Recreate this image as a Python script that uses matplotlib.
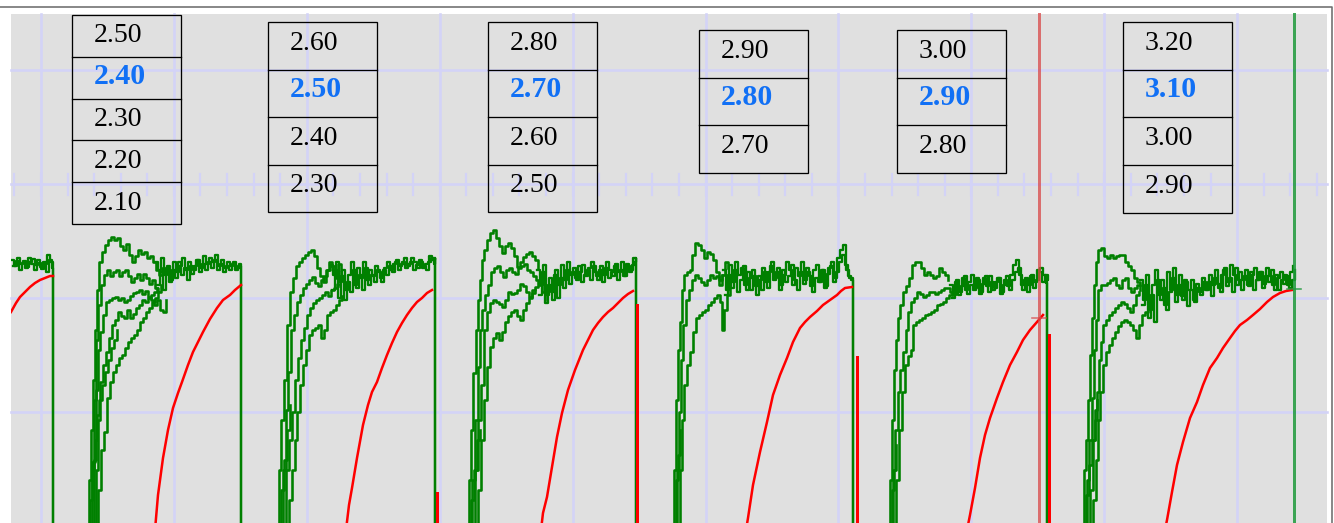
import numpy as np
import matplotlib.pyplot as plt
from matplotlib.patches import Rectangle

# scope raster: columns 0..1334, rows 0..523 (rows grow downward)
W, H = 1334, 523
STEP = 3  # green channel sample spacing in raster columns

# ---- readout tables (one per sweep), middle-highlighted value in blue ----
table_vals = [
    [2.50, 2.40, 2.30, 2.20, 2.10],
    [2.60, 2.50, 2.40, 2.30],
    [2.80, 2.70, 2.60, 2.50],
    [2.90, 2.80, 2.70],
    [3.00, 2.90, 2.80],
    [3.20, 3.10, 3.00, 2.90],
]
highlight_row = [1, 1, 1, 1, 1, 1]

# ---- green channel: settled (noisy) part of every sweep, two overlaid passes ----
settle_start = [11, 155, 330, 537, 723, 950, 1140]
settle_0 = [260, 266, 258, 264, 261, 267, 262, 259, 265, 263, 269, 264, 255, 262]
settle_1 = [262, 270, 258, 275, 266, 280, 262, 272, 266, 258, 270, 262, 274, 266, 260,
            268, 256, 264, 258, 262, 255, 266, 260, 268, 262, 266, 262, 268, 264]
settle_2 = [265, 275, 262, 282, 270, 290, 275, 262, 285, 268, 278, 262, 280, 270, 276,
            266, 272, 282, 268, 262, 270, 264, 260, 266, 262, 268, 264, 258, 262, 268,
            262, 266, 270, 256, 260]
settle_3 = [270, 285, 265, 295, 278, 300, 270, 285, 265, 280, 262, 275, 268, 280, 272,
            265, 276, 268, 262, 272, 280, 266, 275, 262, 270, 276, 264, 272, 262, 276,
            266, 270, 258]
settle_4 = [270, 290, 265, 282, 262, 275, 268, 285, 272, 290, 276, 295, 280, 268, 282,
            272, 262, 278, 268, 285, 275, 262, 270, 285, 268, 276, 262, 280, 272, 286,
            270, 265, 282, 270, 286, 268, 262, 278, 258, 250, 245, 270, 278]
settle_5 = [285, 295, 280, 292, 278, 290, 282, 275, 288, 280, 292, 278, 286, 276, 290,
            282, 278, 292, 280, 286, 275, 265, 260, 275, 290, 278, 285, 275, 282, 270,
            268, 275, 283]
settle_6 = [280, 300, 275, 310, 285, 270, 295, 280, 305, 272, 290, 268, 295, 275, 300,
            282, 290, 280, 302, 288, 295, 282, 290, 275, 285, 270, 288, 275, 268, 282,
            265, 275, 285, 272, 280, 270, 286, 275, 268, 280, 272, 284, 268, 276, 285,
            275, 290, 280, 275, 285, 272, 266]
settle_0b = [266, 261, 270, 263, 268, 258, 264, 270, 260, 267, 262, 272, 260, 268]
settle_1b = [285, 272, 290, 268, 282, 270, 278, 262, 275, 268, 280, 266, 270, 260, 272,
             264, 270, 262, 268, 260, 270, 264, 272, 266, 270, 264, 270, 266, 272]
settle_2b = [290, 270, 298, 276, 300, 282, 292, 270, 288, 275, 290, 268, 285, 275, 282,
             270, 278, 270, 275, 266, 272, 262, 270, 264, 258, 266, 262, 270, 265, 260,
             268, 264, 262, 258, 264]
settle_3b = [295, 272, 303, 285, 292, 275, 298, 278, 288, 270, 284, 272, 278, 266, 282,
             275, 270, 280, 266, 276, 270, 282, 268, 278, 272, 266, 280, 270, 276, 264,
             272, 265, 262]
settle_4b = [295, 275, 288, 270, 292, 280, 266, 290, 278, 270, 286, 276, 290, 272, 288,
             266, 280, 272, 290, 270, 282, 276, 265, 280, 290, 272, 284, 268, 276, 292,
             278, 282, 270, 288, 274, 266, 282, 272, 262, 255, 265, 276, 280]
settle_5b = [298, 282, 295, 286, 276, 294, 285, 290, 278, 294, 284, 276, 292, 282, 288,
             278, 294, 285, 276, 290, 280, 272, 268, 285, 280, 292, 276, 288, 280, 272,
             282, 275, 280]
settle_6b = [305, 285, 318, 295, 322, 280, 300, 288, 310, 292, 278, 302, 285, 296, 280,
             306, 290, 300, 284, 292, 278, 290, 282, 296, 278, 284, 292, 270, 286, 278,
             292, 268, 280, 290, 276, 285, 272, 290, 280, 272, 288, 276, 282, 270, 290,
             278, 272, 284, 276, 288, 280, 270]
settles = [settle_0, settle_1, settle_2, settle_3, settle_4, settle_5, settle_6]
settles_b = [settle_0b, settle_1b, settle_2b, settle_3b, settle_4b, settle_5b, settle_6b]
# end of sweep: trace falls to the bottom from this row
drop_x = [53, 241, 435, 636, 853, 1047]
drop_top = [272, 272, 258, 258, 280, 283]

# ---- green channel: persistence of the leading edges (x, y) ----
rise_1 = [
    [(87, 530), (89, 480), (91, 430), (93, 380), (95, 330), (97, 290), (99, 262), (102, 252),
     (105, 245), (108, 240), (111, 237), (114, 240), (117, 238), (120, 246), (123, 250),
     (126, 244), (129, 255), (132, 262), (135, 256), (138, 250), (141, 254), (144, 252),
     (147, 258), (150, 256), (153, 262), (156, 270), (159, 275), (162, 268)],
    [(89, 530), (92, 470), (94, 400), (96, 340), (98, 305), (101, 285), (104, 275), (107, 270),
     (110, 276), (113, 272), (116, 270), (119, 276), (122, 272), (125, 270), (128, 276),
     (131, 282), (134, 278), (137, 274), (140, 280), (143, 274), (146, 278), (149, 284),
     (152, 280), (155, 288), (158, 292), (161, 285)],
    [(91, 530), (94, 460), (96, 390), (98, 350), (100, 332), (103, 315), (106, 302), (109, 300),
     (112, 298), (115, 297), (118, 300), (121, 298), (124, 302), (127, 300), (130, 296),
     (133, 293), (136, 292), (139, 290), (142, 294), (145, 291), (148, 297), (151, 300),
     (154, 305), (157, 300), (160, 310), (163, 312), (166, 300)],
    [(93, 530), (96, 470), (98, 420), (100, 382), (103, 365), (106, 352), (109, 338), (112, 325),
     (115, 320), (118, 312), (121, 316), (124, 318), (127, 310), (130, 318), (133, 314),
     (136, 308), (139, 305), (142, 300), (145, 302), (148, 298), (151, 295), (154, 292),
     (157, 288)],
    [(95, 530), (98, 490), (101, 450), (104, 432), (107, 398), (110, 382), (113, 372), (116, 365),
     (119, 358), (122, 355), (125, 348), (128, 342), (131, 338), (134, 335), (137, 330),
     (140, 322), (143, 318), (146, 312), (149, 308), (152, 302), (155, 298), (158, 292)],
    [(88, 530), (90, 500), (92, 462), (95, 440), (97, 415), (99, 400), (102, 385), (105, 372),
     (108, 360), (111, 348), (114, 340), (117, 330)],
]
rise_2 = [
    [(277, 530), (279, 470), (281, 420), (284, 380), (287, 325), (290, 292), (293, 278), (296, 266),
     (299, 262), (302, 258), (305, 255), (308, 252), (311, 250), (314, 256), (317, 268),
     (320, 276), (323, 282), (326, 270), (329, 262), (332, 266), (335, 272), (338, 264), (341, 270)],
    [(280, 530), (283, 470), (286, 410), (288, 372), (291, 330), (294, 315), (297, 302), (300, 295),
     (303, 288), (306, 284), (309, 280), (312, 277), (315, 283), (318, 286), (321, 280),
     (324, 276), (327, 270), (330, 266), (333, 272), (336, 278), (339, 272)],
    [(283, 530), (286, 470), (289, 440), (292, 412), (295, 380), (298, 358), (301, 340), (304, 328),
     (307, 315), (310, 308), (313, 303), (316, 300), (319, 298), (322, 295), (325, 292),
     (328, 296), (331, 290), (334, 288), (337, 284), (340, 286)],
    [(286, 530), (289, 500), (292, 470), (295, 440), (297, 412), (300, 385), (303, 365), (306, 350),
     (309, 335), (312, 330), (315, 328), (318, 325), (321, 338), (324, 330), (327, 315),
     (330, 312), (333, 310), (336, 305), (339, 300), (342, 296)],
    [(278, 530), (281, 490), (284, 460), (287, 430), (290, 405)],
]
rise_3 = [
    [(467, 530), (469, 480), (471, 430), (473, 373), (476, 330), (478, 300), (480, 280), (482, 260),
     (484, 250), (487, 240), (490, 233), (493, 230), (496, 238), (499, 246), (502, 253),
     (505, 246), (508, 243), (511, 248), (514, 256), (517, 267), (520, 262), (523, 257),
     (526, 254), (529, 252), (532, 256), (535, 260), (538, 268)],
    [(470, 530), (472, 480), (475, 420), (478, 367), (480, 330), (482, 310), (485, 295), (488, 285),
     (491, 272), (494, 268), (497, 266), (500, 272), (503, 277), (506, 270), (509, 268),
     (512, 272), (515, 274), (518, 268), (521, 266), (524, 264), (527, 270), (530, 272),
     (533, 276), (536, 280), (539, 285), (542, 292), (545, 300)],
    [(473, 530), (475, 470), (478, 420), (481, 385), (484, 330), (487, 312), (490, 303), (493, 300),
     (496, 302), (499, 304), (502, 307), (505, 300), (508, 292), (511, 294), (514, 293),
     (517, 290), (520, 284), (523, 286), (526, 292), (529, 297), (532, 290), (535, 287), (538, 282)],
    [(476, 530), (478, 490), (481, 440), (484, 400), (487, 367), (490, 347), (493, 338), (496, 333),
     (499, 340), (502, 332), (505, 322), (508, 316), (511, 312), (514, 310), (517, 316),
     (520, 320), (523, 310), (526, 303), (529, 298), (532, 293), (535, 290)],
    [(468, 530), (471, 500), (474, 470), (477, 440), (480, 430)],
]
rise_4 = [
    [(672, 530), (674, 470), (676, 400), (678, 350), (680, 322), (682, 290), (684, 275), (687, 272),
     (690, 270), (692, 255), (695, 243), (698, 245), (701, 250), (704, 258), (707, 252),
     (710, 254), (713, 260), (716, 272), (719, 285), (722, 275), (725, 262), (728, 268)],
    [(675, 530), (677, 470), (679, 412), (681, 360), (683, 325), (686, 300), (689, 290), (692, 280),
     (695, 275), (698, 278), (701, 282), (704, 285), (707, 280), (710, 275), (713, 278),
     (716, 276), (719, 280), (722, 275)],
    [(678, 530), (680, 470), (682, 420), (684, 385), (687, 365), (690, 352), (693, 332), (696, 318),
     (699, 315), (702, 312), (705, 310), (708, 305), (711, 302), (714, 298), (717, 295),
     (720, 302), (722, 330), (724, 310), (727, 295), (730, 288)],
    [(673, 530), (676, 480), (678, 455), (680, 430)],
]
rise_5 = [
    [(888, 530), (890, 480), (892, 420), (894, 370), (896, 340), (898, 318), (900, 305), (903, 292),
     (906, 286), (909, 278), (912, 265), (915, 262), (918, 262), (921, 268), (924, 275),
     (927, 272), (930, 275), (933, 278), (936, 276), (939, 268), (942, 272), (945, 275), (948, 280)],
    [(891, 530), (893, 470), (895, 430), (898, 392), (900, 370), (903, 352), (906, 330), (908, 312),
     (911, 302), (914, 298), (917, 292), (920, 294), (923, 297), (926, 295), (929, 292),
     (932, 292), (935, 294), (938, 292), (941, 290), (944, 288), (947, 288), (950, 292), (953, 295)],
    [(894, 530), (896, 480), (899, 430), (902, 392), (905, 365), (908, 356), (911, 350), (913, 325),
     (916, 322), (919, 320), (922, 318), (925, 315), (928, 314), (931, 312), (934, 310),
     (937, 305), (940, 304), (943, 302), (946, 298), (949, 295), (952, 292), (955, 290)],
    [(889, 530), (892, 490), (894, 470), (896, 445)],
]
rise_6 = [
    [(1082, 530), (1084, 470), (1086, 440), (1088, 400), (1090, 355), (1092, 318), (1094, 285),
     (1096, 262), (1098, 250), (1101, 248), (1104, 256), (1107, 258), (1110, 255), (1113, 258),
     (1116, 256), (1119, 255), (1122, 255), (1125, 262), (1128, 266), (1131, 270), (1134, 278),
     (1137, 282), (1140, 285)],
    [(1085, 530), (1087, 480), (1089, 440), (1092, 398), (1094, 350), (1096, 320), (1098, 290),
     (1101, 285), (1104, 285), (1107, 283), (1110, 280), (1113, 278), (1116, 285), (1119, 288),
     (1122, 280), (1125, 278), (1128, 288), (1131, 292), (1134, 288), (1137, 285), (1140, 290)],
    [(1088, 530), (1090, 490), (1093, 440), (1095, 410), (1097, 392), (1099, 360), (1101, 342),
     (1103, 325), (1106, 320), (1109, 315), (1112, 312), (1115, 308), (1118, 305), (1121, 302),
     (1124, 304), (1127, 308), (1130, 312), (1133, 305), (1136, 295), (1139, 292)],
    [(1091, 530), (1093, 500), (1096, 460), (1098, 420), (1100, 392), (1103, 365), (1106, 352),
     (1109, 345), (1112, 338), (1115, 332), (1118, 326), (1121, 322), (1124, 320), (1127, 322),
     (1130, 325), (1133, 330), (1136, 338), (1139, 325), (1142, 315), (1145, 312), (1148, 308),
     (1151, 305)],
    [(1083, 530), (1086, 495), (1089, 465), (1092, 440), (1095, 420), (1097, 400)],
]
rises = [rise_1, rise_2, rise_3, rise_4, rise_5, rise_6]

# ---- red channel: charging curve of each sweep (x, y) ----
red_0 = [(11, 312), (16, 303), (20, 297), (25, 292), (30, 287), (35, 283), (40, 280), (45, 278),
         (50, 276), (53, 276)]
red_1 = [(155, 530), (158, 495), (163, 458), (168, 430), (173, 408), (178, 393), (182, 382),
         (188, 365), (193, 352), (198, 342), (203, 332), (210, 319), (217, 308), (223, 300),
         (230, 295), (235, 290), (241, 285)]
red_2 = [(346, 530), (349, 505), (352, 488), (357, 458), (363, 425), (368, 405), (372, 392),
         (377, 382), (382, 368), (387, 355), (392, 343), (397, 332), (402, 323), (407, 315),
         (412, 308), (417, 302), (422, 298), (427, 293), (432, 290)]
red_3 = [(541, 530), (543, 513), (547, 497), (552, 467), (557, 437), (562, 413), (568, 390),
         (575, 370), (583, 350), (588, 340), (593, 330), (598, 323), (603, 317), (608, 312),
         (613, 308), (618, 303), (623, 298), (628, 294), (633, 291)]
red_4 = [(746, 530), (748, 518), (753, 485), (760, 452), (767, 422), (773, 395), (780, 375),
         (787, 358), (793, 342), (800, 328), (805, 322), (810, 317), (817, 311), (823, 305),
         (830, 300), (837, 295), (841, 291), (845, 288), (852, 287)]
red_5 = [(967, 530), (970, 515), (975, 488), (980, 458), (985, 435), (990, 418), (997, 398),
         (1003, 382), (1010, 365), (1017, 352), (1023, 340), (1030, 330), (1037, 322), (1043, 315)]
red_6 = [(1165, 530), (1167, 520), (1172, 492), (1177, 465), (1183, 442), (1190, 418),
         (1197, 402), (1203, 385), (1210, 368), (1217, 358), (1223, 348), (1230, 338),
         (1235, 331), (1240, 325), (1247, 320), (1253, 315), (1260, 309), (1267, 302),
         (1273, 297), (1280, 293), (1286, 291), (1292, 290)]
reds = [red_0, red_1, red_2, red_3, red_4, red_5, red_6]
# red channel falling edge after each sweep
red_drop_x = [437, 637, 857, 1049]
red_drop_top = [493, 305, 357, 335]

# cursors
cursor_red = (1039, 318)
cursor_green = (1294, 289)

# ---- layout ----
table_left = [72, 268, 488, 699, 897, 1123]
table_top = [15, 22, 22, 30, 30, 22]
table_row_h = [41.8, 47.6, 47.6, 47.7, 47.7, 47.7]
table_w = 109

plot_l, plot_r, plot_t = 11, 1327, 14
grid_x0, grid_dx = 41, 132.9
grid_y0, grid_dy = 70, 114
center_y = 184

GREEN = '#008000'
RED = '#ff0000'
GRID = '#d3d3f7'
BLUE = '#1170f5'
PX = 0.72  # points per raster pixel at 100 dpi

fig = plt.figure(figsize=(W / 100, H / 100), dpi=100)
ax = fig.add_axes([0, 0, 1, 1])
ax.set_xlim(0, W)
ax.set_ylim(H, 0)
ax.axis('off')

# frame and screen background
ax.plot([0, 1332, 1332], [7, 7, H], color='#6e6e6e', lw=1.6 * PX, zorder=1)
ax.add_patch(Rectangle((plot_l, plot_t), plot_r - plot_l, H - plot_t + 5,
                       facecolor='#e0e0e0', edgecolor='none', zorder=1))

# graticule
for k in range(10):
    x = grid_x0 + k * grid_dx
    ax.plot([x, x], [plot_t, H], color=GRID, lw=2.6 * PX, zorder=2)
for k in range(4):
    y = grid_y0 + k * grid_dy
    ax.plot([plot_l, plot_r], [y, y], color=GRID, lw=2.6 * PX, zorder=2)
tick_x = grid_x0 + grid_dx / 5 * np.arange(-1, 50)
tick_x = tick_x[(tick_x > plot_l) & (tick_x < plot_r)]
for x in tick_x:
    ax.plot([x, x], [center_y - 10.5, center_y + 10.5], color=GRID, lw=2.2 * PX, zorder=2)

# readout tables
for vals, hi, left, top, rh in zip(table_vals, highlight_row, table_left, table_top, table_row_h):
    n = len(vals)
    ax.add_patch(Rectangle((left, top), table_w, rh * n, facecolor='none',
                           edgecolor='black', lw=1.3 * PX, zorder=3))
    for r in range(1, n):
        ax.plot([left, left + table_w], [top + r * rh, top + r * rh],
                color='black', lw=1.3 * PX, zorder=3)
    for r, v in enumerate(vals):
        bold = r == hi
        ax.text(left + 22, top + r * rh + 27.5, f'{v:.2f}', family='Liberation Serif',
                fontsize=21.5 if bold else 20, fontweight='bold' if bold else 'normal',
                color=BLUE if bold else 'black', ha='left', va='baseline', zorder=4)

# green channel
clip = Rectangle((plot_l, plot_t), plot_r - plot_l, H - plot_t, transform=ax.transData)
for i in range(len(settles)):
    for vals, shift in ((settles_b[i], 1.5), (settles[i], 0.0)):
        xs = list(settle_start[i] + shift + STEP * np.arange(len(vals)))
        ys = list(vals)
        if i < len(drop_x):
            xs += [drop_x[i], drop_x[i]]
            ys += [drop_top[i], 540]
        ln, = ax.plot(xs, ys, color=GREEN, lw=2.3 * PX, drawstyle='steps-post', zorder=5)
        ln.set_clip_path(clip)
for group in rises:
    for curve in group:
        cx, cy = zip(*curve)
        ln, = ax.plot(cx, cy, color=GREEN, lw=2.6 * PX, drawstyle='steps-post', zorder=5)
        ln.set_clip_path(clip)

# red channel
for curve in reds:
    cx, cy = zip(*curve)
    ln, = ax.plot(cx, cy, color=RED, lw=2.5 * PX, zorder=6)
    ln.set_clip_path(clip)
for x, y in zip(red_drop_x, red_drop_top):
    ax.plot([x, x], [y, H], color=RED, lw=3.0 * PX, zorder=6)

# cursors
ax.plot([cursor_red[0]] * 2, [plot_t, H], color='#d84848', alpha=0.75, lw=3.0 * PX, zorder=7)
ax.plot([cursor_red[0] - 7, cursor_red[0] + 7], [cursor_red[1]] * 2, color='#d84848',
        alpha=0.75, lw=1.6 * PX, zorder=7)
ax.plot([cursor_green[0]] * 2, [plot_t, H], color='#1f9a3c', alpha=0.85, lw=3.0 * PX, zorder=7)
ax.plot([cursor_green[0] - 7, cursor_green[0] + 7], [cursor_green[1]] * 2, color='#1f9a3c',
        alpha=0.85, lw=1.6 * PX, zorder=7)

fig.savefig('out.png', dpi=100, facecolor='white')
